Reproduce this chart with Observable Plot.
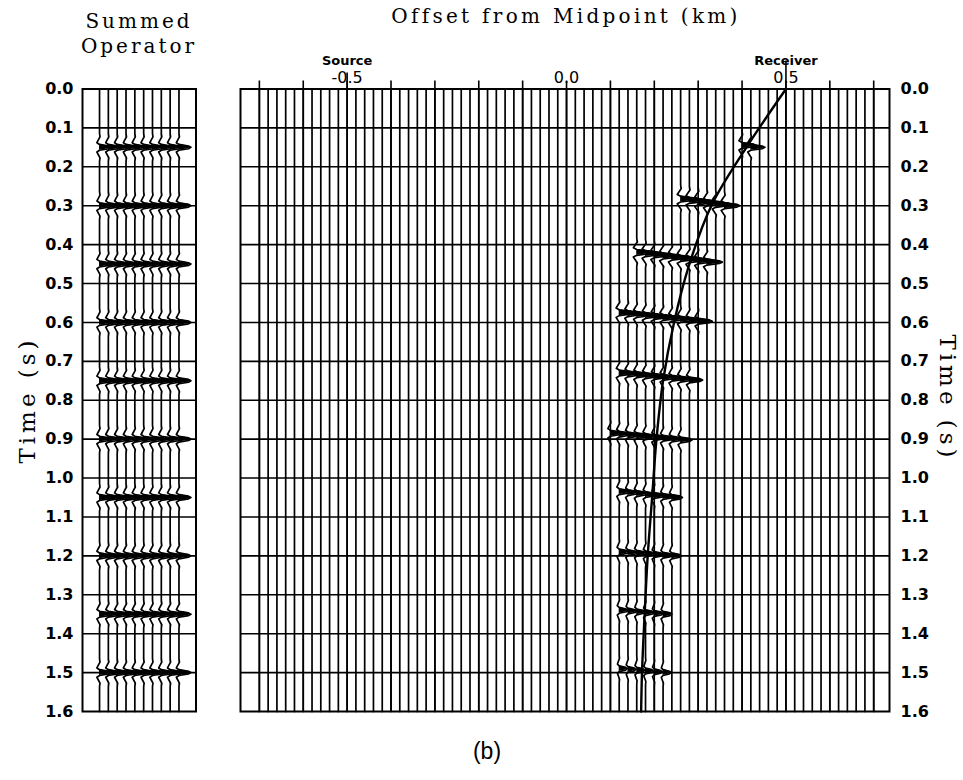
<!DOCTYPE html>
<html>
<head>
<meta charset="utf-8">
<script src="https://cdn.jsdelivr.net/npm/d3@7"></script>
<script src="https://cdn.jsdelivr.net/npm/@observablehq/plot@0.6"></script>
<style>
  body { margin: 0; background: #fff; }
  #wrap { position: relative; width: 963px; height: 780px; overflow: hidden; background: #fff; }
  #wrap svg { position: absolute; left: 0; top: 0; }
</style>
</head>
<body>
<div id="wrap"></div>
<script>
// ---------------- data ----------------
const timeTicks = [0.0, 0.1, 0.2, 0.3, 0.4, 0.5, 0.6, 0.7, 0.8, 0.9, 1.0, 1.1, 1.2, 1.3, 1.4, 1.5, 1.6];
const offsetTicks = [-0.7, -0.6, -0.5, -0.4, -0.3, -0.2, -0.1, 0.0, 0.1, 0.2, 0.3, 0.4, 0.5, 0.6, 0.7];
const offsetLabels = [-0.5, 0.0, 0.5];
const markerNames = ["Source", "Receiver"];
const markerOffsets = [-0.5, 0.5];

// recording geometry: 71 traces every 20 m from -0.70 to 0.70 km
const traceOffsets = d3.range(-35, 36).map(i => +(i * 0.02).toFixed(2));
// summed operator: 10 traces
const operatorTraces = [1, 2, 3, 4, 5, 6, 7, 8, 9, 10];

// wavelet events (s)
const eventTimes = [0.15, 0.30, 0.45, 0.60, 0.75, 0.90, 1.05, 1.20, 1.35, 1.50];
// range of traces (km) carrying each event in the operator panel
const clusterLeft  = [0.40, 0.26, 0.16, 0.12, 0.12, 0.10, 0.12, 0.12, 0.12, 0.12];
const clusterRight = [0.42, 0.36, 0.32, 0.30, 0.28, 0.26, 0.24, 0.24, 0.22, 0.22];
// event time at the left / right end of each cluster (s)
const eventTimeLeft  = [0.145, 0.283, 0.420, 0.575, 0.730, 0.885, 1.035, 1.190, 1.340, 1.490];
const eventTimeRight = [0.150, 0.300, 0.445, 0.597, 0.748, 0.902, 1.050, 1.200, 1.350, 1.500];
// peak amplitude of each event (km of deflection)
const eventAmp = [0.032, 0.035, 0.035, 0.032, 0.030, 0.026, 0.024, 0.022, 0.020, 0.018];
// summed-operator peak amplitude (trace spacings)
const operatorAmp = 1.35;

// wavelet shape (relative time s, relative amplitude)
const waveletTime = [-0.036, -0.027, -0.019, -0.012, -0.0075, -0.0035, 0.000, 0.0035, 0.0075, 0.012, 0.019, 0.027, 0.036];
const waveletAmp  = [ 0.00,   0.04,  -0.10,  -0.22,   0.00,    0.80,   1.00,  0.80,   0.00,  -0.22, -0.10,  0.04,  0.00];

// picked moveout curve through the operator
const curveOffset = [0.50, 0.41, 0.33, 0.28, 0.245, 0.22, 0.205, 0.195, 0.185, 0.178, 0.172, 0.170];
const curveTime   = [0.00, 0.15, 0.30, 0.45, 0.60,  0.75, 0.90,  1.05,  1.20,  1.35,  1.50,  1.60];

// ---------------- build wiggle traces ----------------
function addWavelet(pts, fills, key, traceId, x0, tc, amp) {
  for (let i = 0; i < waveletTime.length; i++) {
    pts.push({trace: traceId, t: tc + waveletTime[i], x: x0 + amp * waveletAmp[i]});
  }
  for (let i = 0; i < waveletTime.length; i++) {
    const a = waveletAmp[i];
    if (i > 0) {
      const ap = waveletAmp[i - 1];
      if ((ap < 0 && a > 0) || (ap > 0 && a < 0)) {
        const tz = waveletTime[i - 1] + (waveletTime[i] - waveletTime[i - 1]) * (ap / (ap - a));
        fills.push({key, t: tc + tz, x1: x0, x2: x0});
      }
    }
    fills.push({key, t: tc + waveletTime[i], x1: x0, x2: x0 + amp * Math.max(0, a)});
  }
}

const mainLine = [], mainFill = [];
traceOffsets.forEach((x0, j) => {
  const pts = [{trace: j, t: 0, x: x0}];
  eventTimes.forEach((te, k) => {
    if (x0 < clusterLeft[k] - 1e-6 || x0 > clusterRight[k] + 1e-6) return;
    const span = clusterRight[k] - clusterLeft[k];
    const f = span > 0 ? (x0 - clusterLeft[k]) / span : 0.5;
    const tc = eventTimeLeft[k] + f * (eventTimeRight[k] - eventTimeLeft[k]);
    addWavelet(pts, mainFill, j + "_" + k, j, x0, tc, eventAmp[k]);
  });
  pts.push({trace: j, t: 1.6, x: x0});
  mainLine.push(...pts);
});

const opLine = [], opFill = [];
operatorTraces.forEach((x0, j) => {
  const pts = [{trace: j, t: 0, x: x0}];
  eventTimes.forEach((te, k) => addWavelet(pts, opFill, j + "_" + k, j, x0, te, operatorAmp));
  pts.push({trace: j, t: 1.6, x: x0});
  opLine.push(...pts);
});

const curve = curveOffset.map((x, i) => ({x, t: curveTime[i]}));
const fmt = d => d.toFixed(1);

// ---------------- main panel ----------------
const mainPlot = Plot.plot({
  width: 963, height: 780,
  marginLeft: 240, marginRight: 74, marginTop: 88.5, marginBottom: 69,
  x: {domain: [-0.743, 0.736], axis: null},
  y: {domain: [0, 1.6], reverse: true, axis: null},
  style: {background: "transparent", overflow: "visible"},
  marks: [
    Plot.ruleY(timeTicks.slice(1, -1), {stroke: "#000", strokeWidth: 1.6}),
    Plot.areaX(mainFill, {y: "t", x1: "x1", x2: "x2", z: "key", fill: "#000"}),
    Plot.line(mainLine, {x: "x", y: "t", z: "trace", stroke: "#000", strokeWidth: 1.7}),
    Plot.line(curve, {x: "x", y: "t", stroke: "#000", strokeWidth: 2.4, curve: "catmull-rom"}),
    Plot.frame({stroke: "#000", strokeWidth: 2}),
    Plot.tickX(offsetTicks, {x: d => d, y1: 0, y2: 0, insetTop: -8, stroke: "#000", strokeWidth: 1.6}),
    Plot.ruleX([markerOffsets[0]], {x: d => d, y1: 0, y2: 0, insetTop: -16, stroke: "#000", strokeWidth: 1.6}),
    Plot.ruleX([markerOffsets[1]], {x: d => d, y1: 0, y2: 0, insetTop: -28, stroke: "#000", strokeWidth: 1.6}),
    Plot.text(offsetLabels, {x: d => d, frameAnchor: "top", dy: -17, text: fmt, fontSize: 16,
      fontFamily: "DejaVu Sans", fill: "#000"}),
    Plot.text(markerNames, {x: (d, i) => markerOffsets[i], frameAnchor: "top", dy: -33, text: d => d,
      fontSize: 13, fontWeight: "bold", fontFamily: "DejaVu Sans", fill: "#000"}),
    Plot.text(timeTicks, {y: d => d, frameAnchor: "right", dx: 11, textAnchor: "start", text: fmt,
      fontSize: 16, fontWeight: "bold", fontFamily: "DejaVu Sans", fill: "#000"})
  ]
});
document.getElementById("wrap").appendChild(mainPlot);

// ---------------- summed operator panel ----------------
const opPlot = Plot.plot({
  width: 963, height: 780,
  marginLeft: 82, marginRight: 767.5, marginTop: 88.5, marginBottom: 69,
  x: {domain: [-0.93, 11.93], axis: null},
  y: {domain: [0, 1.6], reverse: true, axis: null},
  style: {background: "transparent", overflow: "visible"},
  marks: [
    Plot.ruleY(timeTicks.slice(1, -1), {stroke: "#000", strokeWidth: 1.6}),
    Plot.areaX(opFill, {y: "t", x1: "x1", x2: "x2", z: "key", fill: "#000"}),
    Plot.line(opLine, {x: "x", y: "t", z: "trace", stroke: "#000", strokeWidth: 1.7}),
    Plot.frame({stroke: "#000", strokeWidth: 2}),
    Plot.text(timeTicks, {y: d => d, frameAnchor: "left", dx: -9, textAnchor: "end", text: fmt,
      fontSize: 16, fontWeight: "bold", fontFamily: "DejaVu Sans", fill: "#000"})
  ]
});
document.getElementById("wrap").appendChild(opPlot);

// ---------------- titles ----------------
const ann = d3.select("#wrap").append("svg").attr("width", 963).attr("height", 780);
function label(txt, x, y, size, ls, rot, family, weight) {
  return ann.append("text")
    .attr("transform", `translate(${x},${y})` + (rot ? ` rotate(${rot})` : ""))
    .attr("text-anchor", "middle")
    .style("font-family", family || "DejaVu Serif")
    .style("font-size", size + "px")
    .style("font-weight", weight || "normal")
    .style("letter-spacing", ls + "px")
    .style("fill", "#000")
    .text(txt);
}
label("Summed", 139, 28, 20, 3);
label("Operator", 139, 53, 20, 3);
label("Offset from Midpoint (km)", 566, 23, 20, 3.3);
label("Time (s)", 35, 400, 23, 4, -90);
label("Time (s)", 940, 398, 23, 4, 90);
label("(b)", 487, 759, 23, 0, 0, "Liberation Sans");
</script>
</body>
</html>
